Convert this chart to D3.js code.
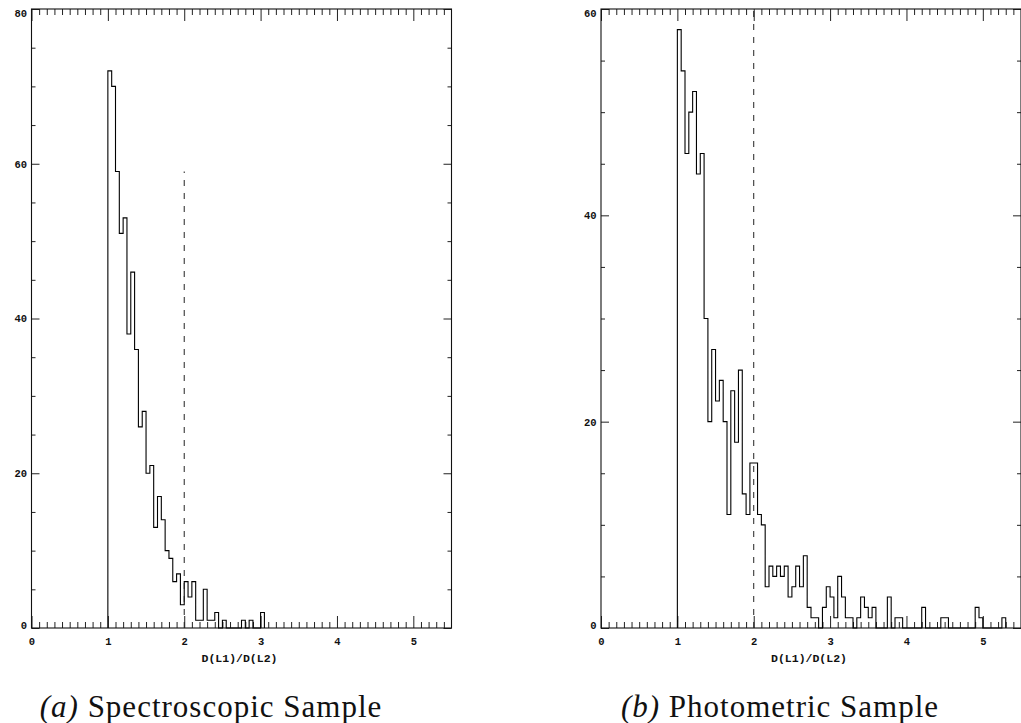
<!DOCTYPE html>
<html>
<head>
<meta charset="utf-8">
<script src="https://cdn.jsdelivr.net/npm/d3@7"></script>
<style>
  html, body { margin: 0; padding: 0; background: #fff; }
  svg { display: block; }
  .tick text { font-family: "Liberation Mono", "DejaVu Sans Mono", monospace; font-size: 10.5px; font-weight: bold; fill: #111; }
  .axis path.domain { display: none; }
  .axis line { stroke: #222; stroke-width: 1; }
</style>
</head>
<body>
<svg id="fig" width="1021" height="723"></svg>
<script>
// Histograms of the distance ratio D(L1)/D(L2), bins of width 0.05 starting at 1.0
const binStart = 1.0;
const binWidth = 0.05;

// (a) spectroscopic sample counts per bin
const spectroscopicCounts = [
  72, 70, 59, 51, 53, 38, 46, 36, 26, 28,
  20, 21, 13, 17, 14, 10, 9, 6, 7, 3,
  6, 4, 6, 1, 1, 5, 1, 1, 2, 0,
  1, 0, 0, 0, 0, 1, 0, 1, 0, 0,
  2
];

// (b) photometric sample counts per bin
const photometricCounts = [
  58, 54, 46, 50, 52, 44, 46, 30, 20, 27,
  22, 24, 20, 11, 23, 18, 25, 13, 11, 16,
  16, 11, 10, 4, 6, 5, 6, 5, 6, 3,
  4, 6, 4, 7, 2, 1, 1, 0, 2, 4,
  3, 1, 5, 3, 1, 1, 0, 1, 3, 2,
  1, 2, 0, 0, 0, 3, 0, 1, 1, 0,
  0, 0, 0, 0, 2, 0, 0, 0, 0, 1,
  1, 0, 0, 0, 0, 0, 0, 0, 2, 1,
  0, 0, 0, 0, 0, 1
];

const xDomain = [0, 5.5];
const xMajorTicks = [0, 1, 2, 3, 4, 5];
const spectroscopicYTicks = [0, 20, 40, 60, 80];
const photometricYTicks = [0, 20, 40, 60];
const xTitle = "D(L1)/D(L2)";

// dashed reference line at ratio 2
const cutoffRatio = 2;
const spectroscopicCutoffTop = 59;
const photometricCutoffTop = 60;

const captionLabels = ["(a)", "(b)"];
const captionTexts = ["Spectroscopic Sample", "Photometric Sample"];

const svg = d3.select("#fig");
svg.append("rect").attr("width", 1021).attr("height", 723).attr("fill", "#fff");

function drawPanel(opts) {
  const { left, right, top, bottom, counts, yMax, yTicks, cutoffTop, label, text, captionX } = opts;
  const g = svg.append("g");

  const x = d3.scaleLinear().domain(xDomain).range([left, right]);
  const y = d3.scaleLinear().domain([0, yMax]).range([bottom, top]);

  const xMinor = d3.range(1, Math.round(xDomain[1] / 0.1) + 1)
    .map(i => +(i * 0.1).toFixed(1))
    .filter(v => Math.abs(v - Math.round(v)) > 1e-6 && v < xDomain[1]);
  const yMinor = d3.range(5, yMax, 5).filter(v => v % 20 !== 0);

  // bottom axis: major ticks with labels, minor ticks without
  g.append("g").attr("class", "axis").attr("transform", `translate(0,${bottom})`)
    .call(d3.axisBottom(x).tickValues(xMinor).tickSize(-6).tickFormat(""));
  g.append("g").attr("class", "axis").attr("transform", `translate(0,${bottom})`)
    .call(d3.axisBottom(x).tickValues(xMajorTicks).tickSize(-12).tickPadding(9.5).tickFormat(d3.format("d")));

  // top axis, ticks only
  g.append("g").attr("class", "axis").attr("transform", `translate(0,${top})`)
    .call(d3.axisTop(x).tickValues(xMinor).tickSize(-6).tickFormat(""));
  g.append("g").attr("class", "axis").attr("transform", `translate(0,${top})`)
    .call(d3.axisTop(x).tickValues(xMajorTicks).tickSize(-12).tickFormat(""));

  // left axis with labels
  g.append("g").attr("class", "axis").attr("transform", `translate(${left},0)`)
    .call(d3.axisLeft(y).tickValues(yMinor).tickSize(-4).tickFormat(""));
  const yl = g.append("g").attr("class", "axis").attr("transform", `translate(${left},0)`)
    .call(d3.axisLeft(y).tickValues(yTicks).tickSize(-8).tickPadding(4.5).tickFormat(d3.format("d")));
  // keep the end labels inside the frame's vertical span
  yl.selectAll(".tick text").attr("dy", d => d === yMax ? "0.75em" : (d === 0 ? "0.05em" : "0.32em"));

  // right axis, ticks only
  g.append("g").attr("class", "axis").attr("transform", `translate(${right},0)`)
    .call(d3.axisRight(y).tickValues(yMinor).tickSize(-4).tickFormat(""));
  g.append("g").attr("class", "axis").attr("transform", `translate(${right},0)`)
    .call(d3.axisRight(y).tickValues(yTicks).tickSize(-8).tickFormat(""));

  // frame
  g.append("rect")
    .attr("x", left).attr("y", top)
    .attr("width", right - left).attr("height", bottom - top)
    .attr("fill", "none").attr("stroke", "#111").attr("stroke-width", 1.1);

  // histogram outline
  const pts = [[binStart, 0]];
  counts.forEach((c, i) => pts.push([binStart + i * binWidth, c]));
  pts.push([binStart + counts.length * binWidth, 0]);
  const line = d3.line().x(d => x(d[0])).y(d => y(d[1])).curve(d3.curveStepAfter);
  g.append("path").attr("d", line(pts))
    .attr("fill", "none").attr("stroke", "#000").attr("stroke-width", 1.1);

  // dashed reference line
  g.append("line")
    .attr("x1", x(cutoffRatio)).attr("x2", x(cutoffRatio))
    .attr("y1", y(0)).attr("y2", y(cutoffTop))
    .attr("stroke", "#222").attr("stroke-width", 1)
    .attr("stroke-dasharray", "6,7");

  // axis title
  g.append("text")
    .attr("x", (left + right) / 2 - 2).attr("y", bottom + 34)
    .attr("text-anchor", "middle")
    .attr("font-family", "Liberation Mono, DejaVu Sans Mono, monospace")
    .attr("font-size", 11.5).attr("font-weight", "bold").attr("fill", "#111")
    .text(xTitle);

  // caption
  const cap = g.append("text")
    .attr("x", captionX).attr("y", 717)
    .attr("text-anchor", "middle")
    .attr("font-family", "Liberation Serif, DejaVu Serif, serif")
    .attr("font-size", 31).attr("letter-spacing", 1).attr("fill", "#111");
  cap.append("tspan").attr("font-style", "italic").text(label);
  cap.append("tspan").text(" " + text);
}

drawPanel({
  left: 31.5, right: 451.5, top: 9, bottom: 628,
  counts: spectroscopicCounts, yMax: 80, yTicks: spectroscopicYTicks,
  cutoffTop: spectroscopicCutoffTop,
  label: captionLabels[0], text: captionTexts[0], captionX: 211
});

drawPanel({
  left: 601, right: 1021, top: 9, bottom: 628,
  counts: photometricCounts, yMax: 60, yTicks: photometricYTicks,
  cutoffTop: photometricCutoffTop,
  label: captionLabels[1], text: captionTexts[1], captionX: 780
});
</script>
</body>
</html>
